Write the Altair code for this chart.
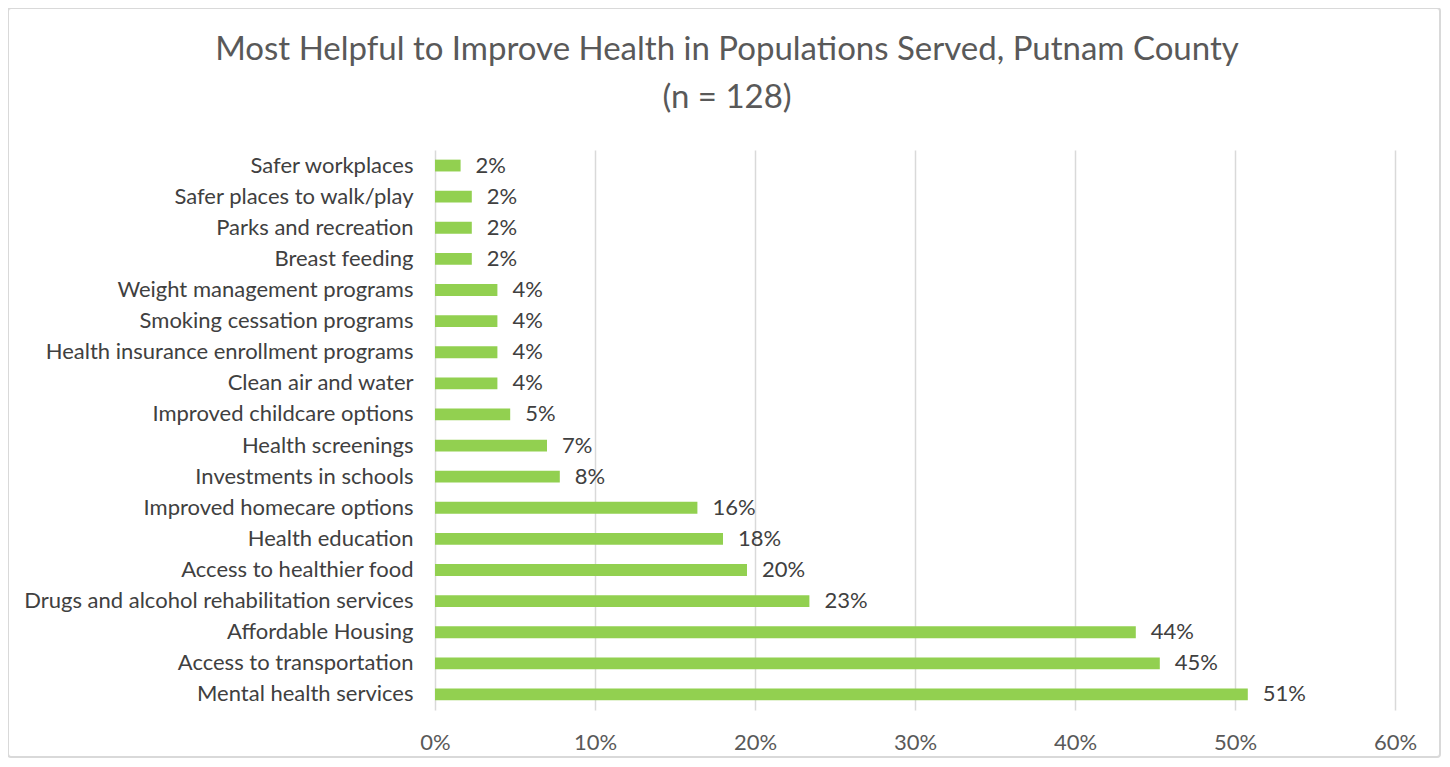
import altair as alt
import pandas as pd

categories = [
    "Safer workplaces", "Safer places to walk/play", "Parks and recreation", "Breast feeding",
    "Weight management programs", "Smoking cessation programs", "Health insurance enrollment programs",
    "Clean air and water", "Improved childcare options", "Health screenings", "Investments in schools",
    "Improved homecare options", "Health education", "Access to healthier food",
    "Drugs and alcohol rehabilitation services", "Affordable Housing", "Access to transportation",
    "Mental health services",
]
values = [1.6, 2.3, 2.3, 2.3, 3.9, 3.9, 3.9, 3.9, 4.7, 7.0, 7.8, 16.4, 18.0, 19.5, 23.4, 43.8, 45.3, 50.8]
labels = ["2%", "2%", "2%", "2%", "4%", "4%", "4%", "4%", "5%", "7%", "8%", "16%", "18%", "20%",
          "23%", "44%", "45%", "51%"]
title_lines = ["Most Helpful to Improve Health in Populations Served, Putnam County", "(n = 128)"]

df = pd.DataFrame({"cat": categories, "val": values, "lab": labels})

FONT = "Lato"
W, H = 960, 560
FS = 22

y_enc = alt.Y("cat:N", sort=categories, title=None,
              scale=alt.Scale(paddingInner=0.62, paddingOuter=0.31),
              axis=alt.Axis(labelFontSize=FS, labelColor="#404040", labelFont=FONT,
                            labelPadding=22, ticks=False, domain=False, grid=False,
                            labelLimit=600))

x_enc = alt.X("val:Q", title=None,
              scale=alt.Scale(domain=[0, 60], nice=False),
              axis=alt.Axis(values=[0, 10, 20, 30, 40, 50, 60], labelExpr="datum.value + '%'",
                            labelFontSize=FS, labelColor="#595959", labelFont=FONT,
                            labelPadding=22, ticks=False, domain=False,
                            labelFlush=False, labelAlign="center",
                            grid=True, gridColor="#d9d9d9", gridWidth=1.5))

base = alt.Chart(df)
bars = base.mark_bar(color="#92D050").encode(x=x_enc, y=y_enc)
text = base.mark_text(align="left", baseline="middle", dx=15, fontSize=FS,
                      font=FONT, color="#404040").encode(
    x="val:Q", y=alt.Y("cat:N", sort=categories), text="lab:N")

one = pd.DataFrame({"t1": [title_lines[0]], "t2": [title_lines[1]]})
t1 = alt.Chart(one).mark_text(fontSize=33, font=FONT, color="#595959", align="center",
                              baseline="middle").encode(
    x=alt.value(292), y=alt.value(-100), text="t1:N")
t2 = alt.Chart(one).mark_text(fontSize=33, font=FONT, color="#595959", align="center",
                              baseline="middle").encode(
    x=alt.value(292), y=alt.value(-52), text="t2:N")
border = alt.Chart(one).mark_rect(fill="transparent", stroke="#d9d9d9", strokeWidth=2,
                                  cornerRadius=3).encode(
    x=alt.value(-427), x2=alt.value(1005), y=alt.value(-142), y2=alt.value(607))

chart = alt.layer(border, bars, text, t1, t2).properties(
    width=W, height=H, padding={"left": 427, "top": 142, "right": 47, "bottom": 49},
    autosize=alt.AutoSizeParams(type="none"), background="white",
).configure_view(strokeWidth=0, stroke="transparent")

chart.save("out.html", embed_options={"renderer": "svg", "actions": False})
